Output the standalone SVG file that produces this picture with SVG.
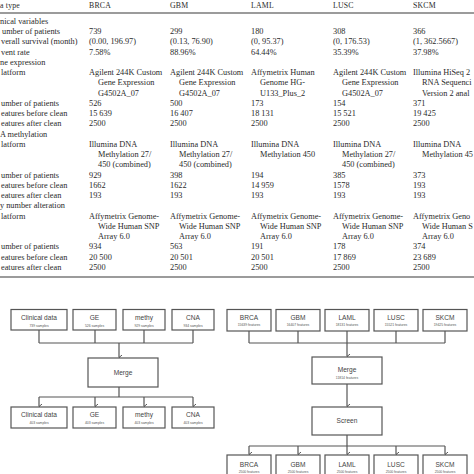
<svg xmlns="http://www.w3.org/2000/svg" width="474" height="474" viewBox="0 0 474 474">
<defs>
<style>
.t{font-family:"Liberation Serif","DejaVu Serif",serif;font-size:8.3px;fill:#2a2a2a}
.h{font-family:"Liberation Serif","DejaVu Serif",serif;font-size:7.8px;fill:#2a2a2a;letter-spacing:0.2px}
.rule{stroke:#7a7a7a;stroke-width:1.4}
.box{fill:#fff;stroke:#555;stroke-width:1.2}
.bt{font-family:"Liberation Sans","Open Sans",sans-serif;font-size:6.6px;fill:#444;text-anchor:middle}
.bs{font-family:"Liberation Sans","Open Sans",sans-serif;font-size:3.4px;fill:#555;text-anchor:middle}
.ln{fill:none;stroke:#555;stroke-width:1.2}
</style>
<marker id="ar" viewBox="0 0 10 10" refX="5" refY="9" markerWidth="6" markerHeight="6" markerUnits="userSpaceOnUse" orient="auto-start-reverse">
<path d="M1,4 L5,9 L9,4" fill="none" stroke="#555" stroke-width="1.6"/>
</marker>
</defs>
<rect width="474" height="474" fill="#fff"/>

<g id="table">
<line class="rule" x1="0" y1="13" x2="474" y2="13"/>
<line class="rule" x1="0" y1="277" x2="474" y2="277"/>
<g class="h">
<text x="0" y="8">a type</text>
<text x="89" y="8">BRCA</text>
<text x="170" y="8">GBM</text>
<text x="251" y="8">LAML</text>
<text x="333" y="8">LUSC</text>
<text x="413" y="8">SKCM</text>
</g>
<g class="t">
<text x="0" y="23.8">nical variables</text>
<text x="2" y="34.1">umber of patients</text>
<text x="1" y="44.3">verall survival (month)</text>
<text x="1" y="54.6">vent rate</text>
<text x="0" y="64.8">ne expression</text>
<text x="1" y="75.1">latform</text>
<text x="1" y="105.8">umber of patients</text>
<text x="1" y="116.1">eatures before clean</text>
<text x="1" y="126.3">eatures after clean</text>
<text x="0" y="136.6">A methylation</text>
<text x="1" y="146.8">latform</text>
<text x="1" y="177.6">umber of patients</text>
<text x="1" y="187.8">eatures before clean</text>
<text x="1" y="198.1">eatures after clean</text>
<text x="0" y="208.3">y number alteration</text>
<text x="1" y="218.6">latform</text>
<text x="1" y="249.3">umber of patients</text>
<text x="1" y="259.6">eatures before clean</text>
<text x="1" y="269.8">eatures after clean</text>

<text x="89" y="34.1">739</text>
<text x="89" y="44.3">(0.00, 196.97)</text>
<text x="89" y="54.6">7.58%</text>
<text x="89" y="75.1">Agilent 244K Custom</text>
<text x="98" y="85.3">Gene Expression</text>
<text x="98" y="95.6">G4502A_07</text>
<text x="89" y="105.8">526</text>
<text x="89" y="116.1">15 639</text>
<text x="89" y="126.3">2500</text>
<text x="89" y="146.8">Illumina DNA</text>
<text x="98" y="157.1">Methylation 27/</text>
<text x="98" y="167.3">450 (combined)</text>
<text x="89" y="177.6">929</text>
<text x="89" y="187.8">1662</text>
<text x="89" y="198.1">193</text>
<text x="89" y="218.6">Affymetrix Genome-</text>
<text x="98" y="228.8">Wide Human SNP</text>
<text x="98" y="239.1">Array 6.0</text>
<text x="89" y="249.3">934</text>
<text x="89" y="259.6">20 500</text>
<text x="89" y="269.8">2500</text>

<text x="170" y="34.1">299</text>
<text x="170" y="44.3">(0.13, 76.90)</text>
<text x="170" y="54.6">88.96%</text>
<text x="170" y="75.1">Agilent 244K Custom</text>
<text x="179" y="85.3">Gene Expression</text>
<text x="179" y="95.6">G4502A_07</text>
<text x="170" y="105.8">500</text>
<text x="170" y="116.1">16 407</text>
<text x="170" y="126.3">2500</text>
<text x="170" y="146.8">Illumina DNA</text>
<text x="179" y="157.1">Methylation 27/</text>
<text x="179" y="167.3">450 (combined)</text>
<text x="170" y="177.6">398</text>
<text x="170" y="187.8">1622</text>
<text x="170" y="198.1">193</text>
<text x="170" y="218.6">Affymetrix Genome-</text>
<text x="179" y="228.8">Wide Human SNP</text>
<text x="179" y="239.1">Array 6.0</text>
<text x="170" y="249.3">563</text>
<text x="170" y="259.6">20 501</text>
<text x="170" y="269.8">2500</text>

<text x="251" y="34.1">180</text>
<text x="251" y="44.3">(0, 95.37)</text>
<text x="251" y="54.6">64.44%</text>
<text x="251" y="75.1">Affymetrix Human</text>
<text x="260" y="85.3">Genome HG-</text>
<text x="260" y="95.6">U133_Plus_2</text>
<text x="251" y="105.8">173</text>
<text x="251" y="116.1">18 131</text>
<text x="251" y="126.3">2500</text>
<text x="251" y="146.8">Illumina DNA</text>
<text x="260" y="157.1">Methylation 450</text>
<text x="251" y="177.6">194</text>
<text x="251" y="187.8">14 959</text>
<text x="251" y="198.1">193</text>
<text x="251" y="218.6">Affymetrix Genome-</text>
<text x="260" y="228.8">Wide Human SNP</text>
<text x="260" y="239.1">Array 6.0</text>
<text x="251" y="249.3">191</text>
<text x="251" y="259.6">20 501</text>
<text x="251" y="269.8">2500</text>

<text x="333" y="34.1">308</text>
<text x="333" y="44.3">(0, 176.53)</text>
<text x="333" y="54.6">35.39%</text>
<text x="333" y="75.1">Agilent 244K Custom</text>
<text x="342" y="85.3">Gene Expression</text>
<text x="342" y="95.6">G4502A_07</text>
<text x="333" y="105.8">154</text>
<text x="333" y="116.1">15 521</text>
<text x="333" y="126.3">2500</text>
<text x="333" y="146.8">Illumina DNA</text>
<text x="342" y="157.1">Methylation 27/</text>
<text x="342" y="167.3">450 (combined)</text>
<text x="333" y="177.6">385</text>
<text x="333" y="187.8">1578</text>
<text x="333" y="198.1">193</text>
<text x="333" y="218.6">Affymetrix Genome-</text>
<text x="342" y="228.8">Wide Human SNP</text>
<text x="342" y="239.1">Array 6.0</text>
<text x="333" y="249.3">178</text>
<text x="333" y="259.6">17 869</text>
<text x="333" y="269.8">2500</text>

<text x="413" y="34.1">366</text>
<text x="413" y="44.3">(1, 362.5667)</text>
<text x="413" y="54.6">37.98%</text>
<text x="413" y="75.1">Illumina HiSeq 2</text>
<text x="422" y="85.3">RNA Sequenci</text>
<text x="422" y="95.6">Version 2 anal</text>
<text x="413" y="105.8">371</text>
<text x="413" y="116.1">19 425</text>
<text x="413" y="126.3">2500</text>
<text x="413" y="146.8">Illumina DNA</text>
<text x="422" y="157.1">Methylation 45</text>
<text x="413" y="177.6">373</text>
<text x="413" y="187.8">193</text>
<text x="413" y="198.1">193</text>
<text x="413" y="218.6">Affymetrix Geno</text>
<text x="422" y="228.8">Wide Human S</text>
<text x="422" y="239.1">Array 6.0</text>
<text x="413" y="249.3">374</text>
<text x="413" y="259.6">23 689</text>
<text x="413" y="269.8">2500</text>
</g>
</g>

<g id="connectors">
<path class="ln" d="M39,330V343 M95,330V343 M144,330V343 M193,330V343 M39,343H193"/>
<path class="ln" d="M119,343V357.5" marker-end="url(#ar)"/>
<path class="ln" d="M119,387V397 M39,397H193"/>
<path class="ln" d="M39,397V406.5" marker-end="url(#ar)"/>
<path class="ln" d="M95,397V406.5" marker-end="url(#ar)"/>
<path class="ln" d="M144,397V406.5" marker-end="url(#ar)"/>
<path class="ln" d="M193,397V406.5" marker-end="url(#ar)"/>

<path class="ln" d="M249,331V343 M298,331V343 M347,331V343 M396,331V343 M445,331V343 M249,343H445"/>
<path class="ln" d="M347,343V356.5" marker-end="url(#ar)"/>
<path class="ln" d="M347,384V406.5" marker-end="url(#ar)"/>
<path class="ln" d="M347,435V446 M249,446H445"/>
<path class="ln" d="M249,446V454.5" marker-end="url(#ar)"/>
<path class="ln" d="M298,446V454.5" marker-end="url(#ar)"/>
<path class="ln" d="M347,446V454.5" marker-end="url(#ar)"/>
<path class="ln" d="M396,446V454.5" marker-end="url(#ar)"/>
<path class="ln" d="M445,446V454.5" marker-end="url(#ar)"/>
</g>

<g id="l-clin-in"><rect class="box" x="11" y="309.5" width="56" height="20.5"/><text class="bt" x="39" y="319.5">Clinical data</text><text class="bs" x="39" y="326.5">739 samples</text></g>
<g id="l-ge-in"><rect class="box" x="73" y="309.5" width="43" height="20.5"/><text class="bt" x="94.5" y="319.5">GE</text><text class="bs" x="94.5" y="326.5">526 samples</text></g>
<g id="l-methy-in"><rect class="box" x="123" y="309.5" width="42" height="20.5"/><text class="bt" x="144" y="319.5">methy</text><text class="bs" x="144" y="326.5">929 samples</text></g>
<g id="l-cna-in"><rect class="box" x="172" y="309.5" width="42" height="20.5"/><text class="bt" x="193" y="319.5">CNA</text><text class="bs" x="193" y="326.5">934 samples</text></g>
<g id="l-merge"><rect class="box" x="88" y="358" width="70" height="29"/><text class="bt" x="123" y="374.5">Merge</text></g>
<g id="l-clin-out"><rect class="box" x="11" y="407" width="56" height="21"/><text class="bt" x="39" y="417.2">Clinical data</text><text class="bs" x="39" y="424">403 samples</text></g>
<g id="l-ge-out"><rect class="box" x="73" y="407" width="43" height="21"/><text class="bt" x="94.5" y="417.2">GE</text><text class="bs" x="94.5" y="424">403 samples</text></g>
<g id="l-methy-out"><rect class="box" x="123" y="407" width="42" height="21"/><text class="bt" x="144" y="417.2">methy</text><text class="bs" x="144" y="424">403 samples</text></g>
<g id="l-cna-out"><rect class="box" x="172" y="407" width="42" height="21"/><text class="bt" x="193" y="417.2">CNA</text><text class="bs" x="193" y="424">403 samples</text></g>

<g id="r-brca-in"><rect class="box" x="227" y="309.5" width="44" height="21.5"/><text class="bt" x="249" y="319.5">BRCA</text><text class="bs" x="249" y="326">15639 features</text></g>
<g id="r-gbm-in"><rect class="box" x="276" y="309.5" width="44" height="21.5"/><text class="bt" x="298" y="319.5">GBM</text><text class="bs" x="298" y="326">16407 features</text></g>
<g id="r-laml-in"><rect class="box" x="325" y="309.5" width="44" height="21.5"/><text class="bt" x="347" y="319.5">LAML</text><text class="bs" x="347" y="326">18131 features</text></g>
<g id="r-lusc-in"><rect class="box" x="374" y="309.5" width="44" height="21.5"/><text class="bt" x="396" y="319.5">LUSC</text><text class="bs" x="396" y="326">15521 features</text></g>
<g id="r-skcm-in"><rect class="box" x="423" y="309.5" width="44" height="21.5"/><text class="bt" x="445" y="319.5">SKCM</text><text class="bs" x="445" y="326">19425 features</text></g>
<g id="r-merge"><rect class="box" x="312" y="357" width="70" height="27"/><text class="bt" x="347" y="371.5">Merge</text><text class="bs" x="347" y="378.5">11814 features</text></g>
<g id="r-screen"><rect class="box" x="312" y="407" width="70" height="28"/><text class="bt" x="347" y="423.3">Screen</text></g>
<g id="r-brca-out"><rect class="box" x="227" y="455" width="44" height="22"/><text class="bt" x="249" y="466.5">BRCA</text><text class="bs" x="249" y="473">2500 features</text></g>
<g id="r-gbm-out"><rect class="box" x="276" y="455" width="44" height="22"/><text class="bt" x="298" y="466.5">GBM</text><text class="bs" x="298" y="473">2500 features</text></g>
<g id="r-laml-out"><rect class="box" x="325" y="455" width="44" height="22"/><text class="bt" x="347" y="466.5">LAML</text><text class="bs" x="347" y="473">2500 features</text></g>
<g id="r-lusc-out"><rect class="box" x="374" y="455" width="44" height="22"/><text class="bt" x="396" y="466.5">LUSC</text><text class="bs" x="396" y="473">2500 features</text></g>
<g id="r-skcm-out"><rect class="box" x="423" y="455" width="44" height="22"/><text class="bt" x="445" y="466.5">SKCM</text><text class="bs" x="445" y="473">2500 features</text></g>
</svg>
